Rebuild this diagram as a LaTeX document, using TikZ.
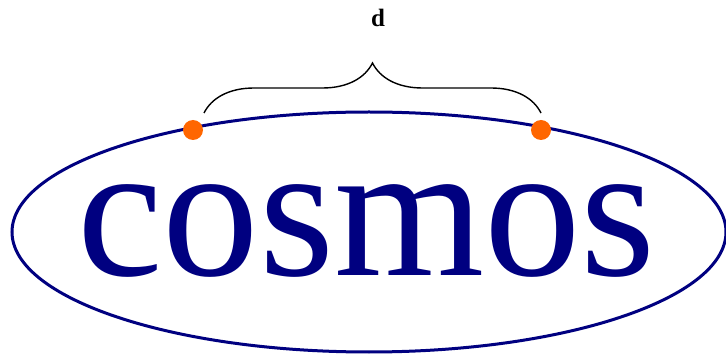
\documentclass[tikz,border=0pt]{standalone}
\usepackage{fontspec}
\setmainfont{Liberation Serif}
\usetikzlibrary{shapes.geometric,decorations.pathreplacing}
\definecolor{navyc}{RGB}{0,0,128}
\definecolor{dotorange}{RGB}{255,102,0}
\tikzset{
  ringstyle/.style={draw=navyc, line width=3pt, ellipse, inner sep=0pt, minimum width=714pt, minimum height=240pt},
  dotstyle/.style={circle, fill=dotorange, inner sep=0pt, minimum size=20pt},
  bracestyle/.style={draw=black, line width=1.4pt, decorate, decoration={brace, amplitude=50pt}}
}
\begin{document}
\begin{tikzpicture}[x=1pt,y=-1pt]
\useasboundingbox (0,0) rectangle (726,358);
\node[ringstyle] (E) at (369,232) {};
\node[anchor=base, text=navyc, font={\fontsize{193pt}{200pt}\selectfont}, inner sep=0pt] (T) at (366.5,276) {cosmos};
\coordinate (b1) at (204,113);
\coordinate (b2) at (541,113);
\draw[bracestyle] (b1) -- (b2);
\node[dotstyle] (p1) at (193,130) {};
\node[dotstyle] (p2) at (541,130) {};
\node[font={\fontsize{25pt}{30pt}\selectfont\bfseries}, inner sep=0pt] (d) at (378,18) {d};
\end{tikzpicture}
\end{document}
